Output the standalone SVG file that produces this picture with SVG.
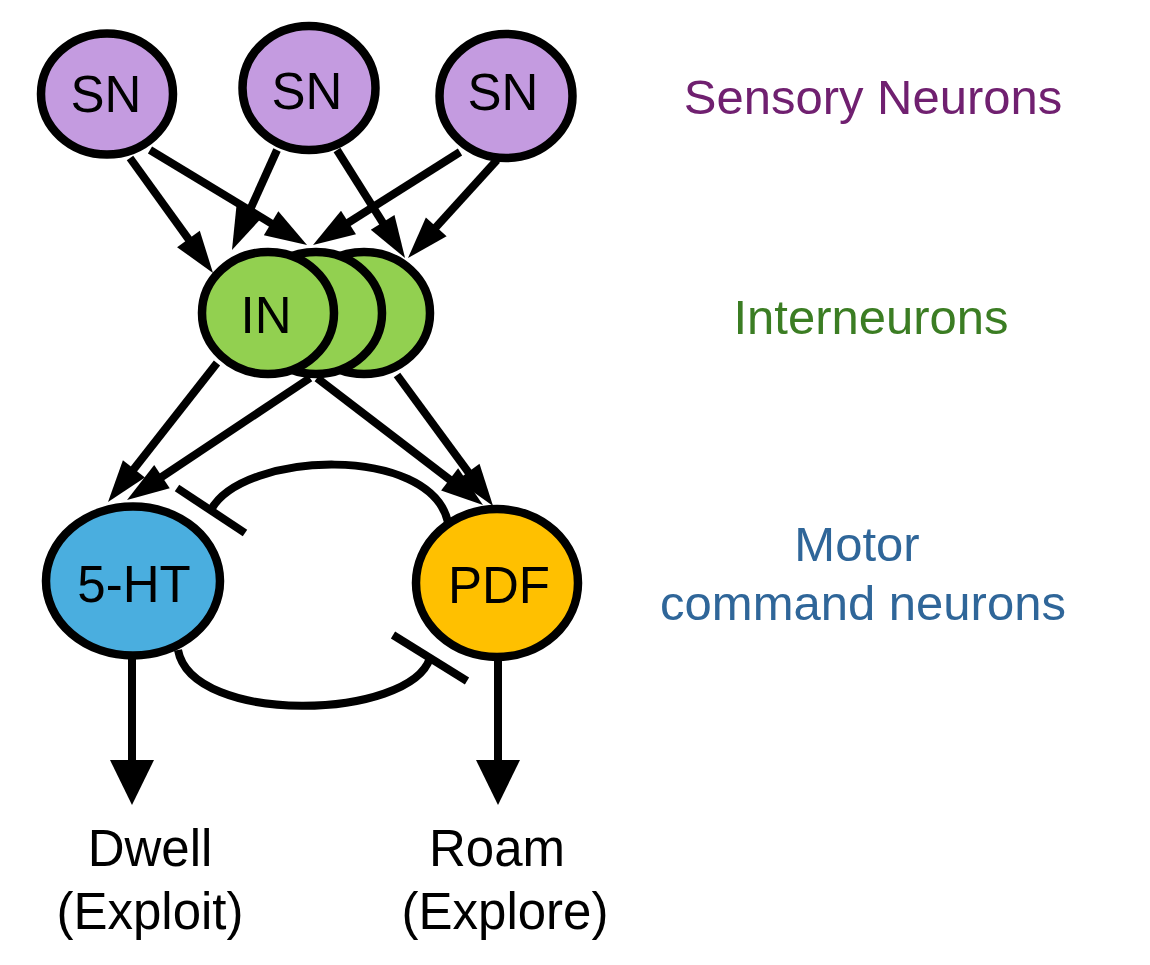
<svg xmlns="http://www.w3.org/2000/svg" width="1150" height="965" viewBox="0 0 1150 965">
  <style>
    .node { stroke: #000; stroke-width: 8.5; }
    .sn { fill: #C49BE0; }
    .in { fill: #92D050; }
    .ht { fill: #4AAEDF; }
    .pdf { fill: #FFC000; }
    .lbl { font-family: "Liberation Sans", Arial, sans-serif; font-size: 51px; fill: #000; text-anchor: middle; }
    .side { font-family: "Liberation Sans", Arial, sans-serif; font-size: 49px; text-anchor: middle; }
    .edge { stroke: #000; stroke-width: 8; fill: none; }
    .arr { marker-end: url(#ah); }
    .bigarr { marker-end: url(#bah); }
  </style>
  <defs>
    <marker id="ah" markerUnits="userSpaceOnUse" viewBox="-2 -14 42 28" markerWidth="42" markerHeight="28" refX="0" refY="0" orient="auto" overflow="visible">
      <path d="M-2,-14 L40,0 L-2,14 z" fill="#000"/>
    </marker>
    <marker id="bah" markerUnits="userSpaceOnUse" viewBox="-2 -22 45 44" markerWidth="45" markerHeight="44" refX="0" refY="0" orient="auto" overflow="visible">
      <path d="M-2,-22 L43,0 L-2,22 z" fill="#000"/>
    </marker>
  </defs>

  <g id="connectors">
    <!-- SN -> IN -->
    <line class="edge arr" x1="130" y1="158" x2="189.6" y2="240.6"/>
    <line class="edge arr" x1="150" y1="150" x2="272.8" y2="224.3"/>
    <line class="edge arr" x1="277" y1="150" x2="248.4" y2="213.5"/>
    <line class="edge arr" x1="337" y1="150" x2="383.7" y2="224.1"/>
    <line class="edge arr" x1="460" y1="152" x2="346.8" y2="223.6"/>
    <line class="edge arr" x1="497" y1="160" x2="434.9" y2="228.4"/>
    <!-- IN -> motor -->
    <line class="edge arr" x1="217" y1="363" x2="132.7" y2="470.5"/>
    <line class="edge arr" x1="310" y1="378" x2="160.3" y2="477.8"/>
    <line class="edge arr" x1="317" y1="378" x2="451.2" y2="480.7"/>
    <line class="edge arr" x1="397" y1="375" x2="469.4" y2="473.7"/>
    <!-- mutual inhibition -->
    <path class="edge" d="M448,522 C430,444 243,451 211,510"/>
    <line class="edge" x1="177" y1="488" x2="245" y2="533"/>
    <path class="edge" d="M178,650 C192,726 410,720 430,658"/>
    <line class="edge" x1="393" y1="635" x2="467" y2="681"/>
    <!-- outputs -->
    <line class="edge bigarr" x1="132" y1="655" x2="132" y2="762"/>
    <line class="edge bigarr" x1="498" y1="655" x2="498" y2="762"/>
  </g>

  <g id="sn1">
    <ellipse class="node sn" cx="107" cy="94" rx="66" ry="60.5"/>
    <text class="lbl" x="106" y="112">SN</text>
  </g>
  <g id="sn2">
    <ellipse class="node sn" cx="309" cy="88" rx="66.5" ry="62"/>
    <text class="lbl" x="307" y="109">SN</text>
  </g>
  <g id="sn3">
    <ellipse class="node sn" cx="506" cy="96" rx="66.5" ry="62"/>
    <text class="lbl" x="503" y="110">SN</text>
  </g>

  <g id="in3">
    <ellipse class="node in" cx="364" cy="313" rx="66" ry="61"/>
  </g>
  <g id="in2">
    <ellipse class="node in" cx="316" cy="313" rx="66" ry="61"/>
  </g>
  <g id="in1">
    <ellipse class="node in" cx="268" cy="313" rx="66" ry="61"/>
    <text class="lbl" x="266" y="333">IN</text>
  </g>

  <g id="ht5">
    <ellipse class="node ht" cx="133" cy="581" rx="87" ry="74.5"/>
    <text class="lbl" x="134" y="602">5-HT</text>
  </g>
  <g id="pdf">
    <ellipse class="node pdf" cx="497" cy="583" rx="81" ry="74"/>
    <text class="lbl" x="499" y="603">PDF</text>
  </g>

  <g id="dwell">
    <text class="lbl" x="150" y="866" style="font-size:51px">Dwell</text>
    <text class="lbl" x="150" y="929" style="font-size:51px">(Exploit)</text>
  </g>
  <g id="roam">
    <text class="lbl" x="497" y="866" style="font-size:51px">Roam</text>
    <text class="lbl" x="505" y="929" style="font-size:51px">(Explore)</text>
  </g>

  <g id="labels">
    <text class="side" x="873" y="114" fill="#702070">Sensory Neurons</text>
    <text class="side" x="871" y="334" fill="#3B7D23">Interneurons</text>
    <text class="side" x="857" y="561" fill="#2F6699">Motor</text>
    <text class="side" x="863" y="620" fill="#2F6699">command neurons</text>
  </g>
</svg>
